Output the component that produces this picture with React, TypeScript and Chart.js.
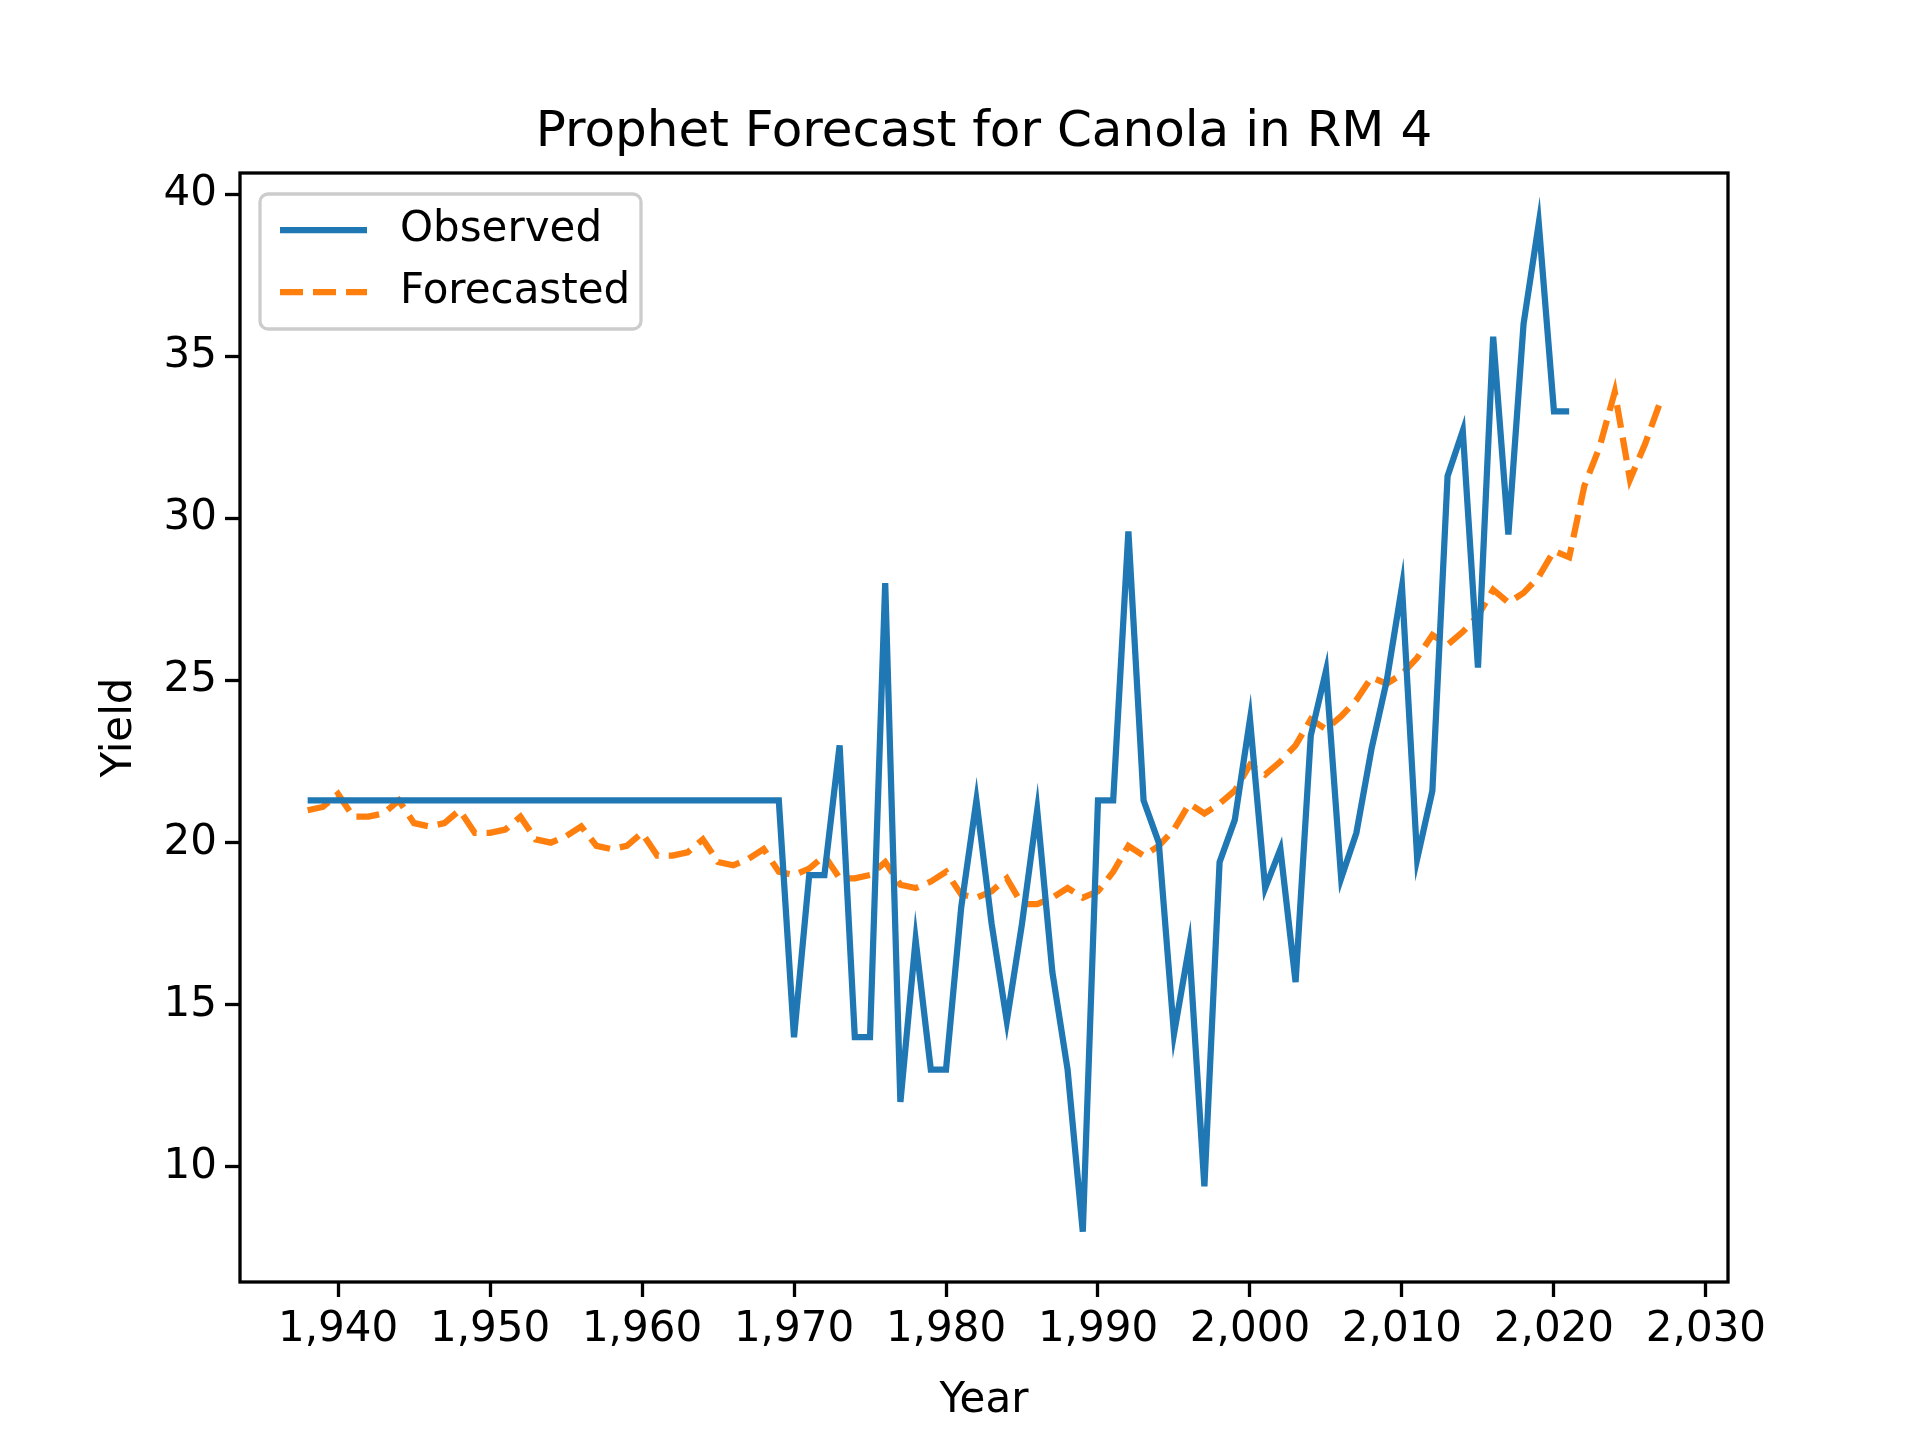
import { useEffect, useRef } from "react"
import { Chart, registerables } from "chart.js"

Chart.register(...registerables)

const observedYears = Array.from({ length: 2021 - 1938 + 1 }, (_, i) => 1938 + i)
const observedValues = [
  21.3, 21.3, 21.3, 21.3, 21.3, 21.3, 21.3, 21.3, 21.3, 21.3, 21.3, 21.3, 21.3, 21.3, 21.3, 21.3,
  21.3, 21.3, 21.3, 21.3, 21.3, 21.3, 21.3, 21.3, 21.3, 21.3, 21.3, 21.3, 21.3, 21.3, 21.3, 21.3,
  14, 19, 19, 23, 14, 14, 28, 12, 17, 13, 13, 18, 21.3, 17.5, 14.5, 17.5, 21, 16, 13, 8,
  21.3, 21.3, 29.6, 21.3, 20, 14.1, 16.8, 9.4, 19.4, 20.7, 23.8, 18.6, 19.8, 15.7, 23.3, 25.3,
  18.9, 20.3, 22.9, 25, 27.9, 19.5, 21.6, 31.3, 32.7, 25.4, 35.6, 29.5, 36, 39.1, 33.3, 33.3,
]

const forecastYears = Array.from({ length: 2027 - 1938 + 1 }, (_, i) => 1938 + i)
const forecastValues = [
  21.0, 21.1, 21.5, 20.8, 20.8, 20.9, 21.3, 20.6, 20.5, 20.6, 21.0, 20.3, 20.3, 20.4, 20.8, 20.1,
  20.0, 20.2, 20.5, 19.9, 19.8, 19.9, 20.3, 19.6, 19.6, 19.7, 20.1, 19.4, 19.3, 19.5, 19.8, 19.1,
  19.0, 19.2, 19.6, 18.9, 18.9, 19.0, 19.4, 18.7, 18.6, 18.8, 19.1, 18.4, 18.3, 18.5, 18.9, 18.1,
  18.1, 18.3, 18.6, 18.3, 18.5, 19.1, 19.9, 19.6, 19.9, 20.4, 21.2, 20.9, 21.2, 21.6, 22.4, 22.1,
  22.5, 23.0, 23.8, 23.5, 23.9, 24.4, 25.1, 24.9, 25.2, 25.7, 26.4, 26.1, 26.5, 27.0, 27.8, 27.4,
  27.7, 28.2, 29.0, 28.8, 31.0, 32.2, 33.9, 31.2, 32.3, 33.6,
]

const xTicks = [1940, 1950, 1960, 1970, 1980, 1990, 2000, 2010, 2020, 2030]
const yTicks = [10, 15, 20, 25, 30, 35, 40]

const BLUE = "#1f77b4"
const ORANGE = "#ff7f0e"
const FONT = "DejaVu Sans"

const decorations = {
  id: "decorations",
  afterDraw(chart: Chart) {
    const { ctx, chartArea: a } = chart
    ctx.save()
    // frame
    ctx.strokeStyle = "#000"
    ctx.lineWidth = 3.3
    ctx.strokeRect(a.left, a.top, a.right - a.left, a.bottom - a.top)
    // titles
    ctx.fillStyle = "#000"
    ctx.textAlign = "center"
    ctx.textBaseline = "middle"
    ctx.font = `50px ${FONT}`
    ctx.fillText("Prophet Forecast for Canola in RM 4", (a.left + a.right) / 2, 133)
    ctx.font = `42px ${FONT}`
    ctx.fillText("Year", (a.left + a.right) / 2, 1401)
    ctx.translate(120, (a.top + a.bottom) / 2)
    ctx.rotate(-Math.PI / 2)
    ctx.fillText("Yield", 0, 0)
    ctx.restore()

    // legend
    ctx.save()
    const lx = a.left + 20, ly = a.top + 21, lw = 381, lh = 135
    ctx.fillStyle = "rgba(255,255,255,0.8)"
    ctx.strokeStyle = "#cccccc"
    ctx.lineWidth = 3.3
    ctx.beginPath()
    ctx.roundRect(lx, ly, lw, lh, 8)
    ctx.fill()
    ctx.stroke()
    const rows: [string, string, number[]][] = [
      ["Observed", BLUE, []],
      ["Forecasted", ORANGE, [23, 10]],
    ]
    rows.forEach(([label, color, dash], i) => {
      const y = 230 + i * 62
      ctx.strokeStyle = color
      ctx.lineWidth = 6.25
      ctx.setLineDash(dash)
      ctx.beginPath()
      ctx.moveTo(280, y)
      ctx.lineTo(367, y)
      ctx.stroke()
      ctx.setLineDash([])
      ctx.fillStyle = "#000"
      ctx.font = `42px ${FONT}`
      ctx.textAlign = "left"
      ctx.textBaseline = "middle"
      ctx.fillText(label, 400, y)
    })
    ctx.restore()
  },
}

export default function App() {
  const chartRef = useRef<HTMLCanvasElement>(null)
  const chartInstance = useRef<Chart | null>(null)

  useEffect(() => {
    document.body.style.margin = "0"
    if (!chartRef.current) return
    if (chartInstance.current) chartInstance.current.destroy()
    const ctx = chartRef.current.getContext("2d")
    if (!ctx) return

    const tickOpts = { color: "#000", font: { family: FONT, size: 42 } }
    const gridOpts = {
      display: true,
      drawOnChartArea: false,
      drawTicks: true,
      tickLength: 15,
      tickWidth: 3.3,
      tickColor: "#000",
    }

    chartInstance.current = new Chart(ctx, {
      type: "line",
      data: {
        datasets: [
          {
            label: "Observed",
            data: observedYears.map((x, i) => ({ x, y: observedValues[i] })),
            borderColor: BLUE,
            borderWidth: 6.25,
            pointRadius: 0,
            tension: 0,
          },
          {
            label: "Forecasted",
            data: forecastYears.map((x, i) => ({ x, y: forecastValues[i] })),
            borderColor: ORANGE,
            borderWidth: 6.25,
            borderDash: [23, 10],
            pointRadius: 0,
            tension: 0,
          },
        ],
      },
      options: {
        responsive: false,
        animation: false,
        devicePixelRatio: 1,
        layout: { padding: { top: 173, right: 192, left: 0, bottom: 0 } },
        plugins: { legend: { display: false }, title: { display: false }, tooltip: { enabled: false } },
        scales: {
          x: {
            type: "linear",
            min: 1933.55,
            max: 2031.45,
            border: { display: false },
            grid: gridOpts,
            ticks: { ...tickOpts, padding: 8, maxRotation: 0 },
            afterBuildTicks: (s: any) => { s.ticks = xTicks.map((v) => ({ value: v })) },
            afterFit: (s: any) => { s.height = 158 },
          },
          y: {
            type: "linear",
            min: 6.45,
            max: 40.65,
            border: { display: false },
            grid: gridOpts,
            ticks: { ...tickOpts, padding: 8 },
            afterBuildTicks: (s: any) => { s.ticks = yTicks.map((v) => ({ value: v })) },
            afterFit: (s: any) => { s.width = 240 },
          },
        },
      },
      plugins: [decorations],
    })

    return () => {
      if (chartInstance.current) chartInstance.current.destroy()
    }
  }, [])

  return <canvas ref={chartRef} width={1920} height={1440} style={{ display: "block" }} />
}
